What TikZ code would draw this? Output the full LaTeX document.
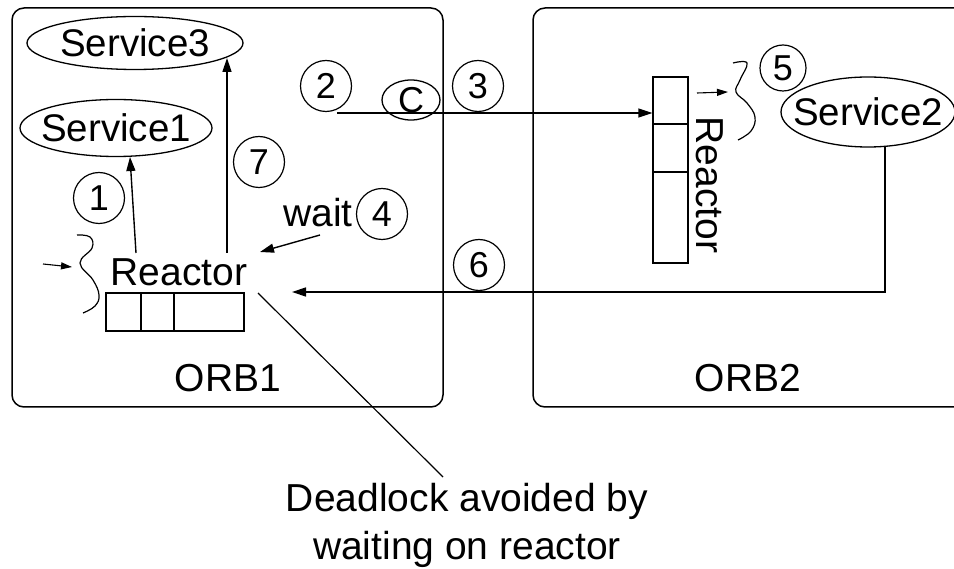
\documentclass[tikz,border=0pt]{standalone}
\usepackage{fontspec}
\setmainfont{Liberation Sans}
\usetikzlibrary{shapes.geometric,arrows.meta}
\begin{document}
\begin{tikzpicture}[x=1pt,y=-1pt,
  orbbox/.style={draw,line width=1.5pt,rounded corners=12pt,inner sep=0pt},
  lbl/.style={font=\fontsize{39}{47}\selectfont,inner sep=0pt},
  svc/.style={draw,ellipse,line width=1.3pt,inner xsep=-20pt,inner ysep=-6pt,font=\fontsize{38.5}{46}\selectfont},
  num/.style={draw,circle,line width=1.2pt,minimum size=51pt,inner sep=0pt,font=\fontsize{36}{43}\selectfont},
  qcell/.style={draw,line width=1.3pt,inner sep=0pt},
  arr/.style={line width=1.4pt,-{Triangle[length=14pt,width=9pt]}},
  thin/.style={line width=1.2pt}]
\clip (0,0) rectangle (954,569);
\useasboundingbox (0,0) rectangle (954,569);
% ORB boxes
\node[orbbox,minimum width=431pt,minimum height=399pt] (orb1) at (227.5,207.5) {};
\node[orbbox,minimum width=442pt,minimum height=399pt] (orb2) at (754,207.5) {};
\node[lbl] (orb1l) at (228,378) {ORB1};
\node[lbl] (orb2l) at (748,378) {ORB2};
% services
\node[svc,minimum width=216pt,minimum height=53pt] (s3) at (135,43) {Service3};
\node[svc,minimum width=192pt,minimum height=57pt] (s1) at (116,128) {Service1};
\node[svc,minimum width=174pt,minimum height=70pt] (s2) at (868,112) {Service2};
\node[svc,minimum width=58pt,minimum height=40pt,font=\fontsize{36}{43}\selectfont] (cc) at (411,100) {C};
% numbers
\node[num] (n1) at (99,198) {1};
\node[num] (n2) at (326,86) {2};
\node[num] (n3) at (478,86) {3};
\node[num] (n4) at (382,214) {4};
\node[num,minimum size=46pt] (n5) at (783,68) {5};
\node[num] (n6) at (479,265) {6};
\node[num] (n7) at (259,162) {7};
% left reactor
\node[lbl] (rl) at (179,272) {Reactor};
\node[qcell,minimum width=35pt,minimum height=38pt] (ql1) at (123.5,312) {};
\node[qcell,minimum width=33pt,minimum height=38pt] (ql2) at (157.5,312) {};
\node[qcell,minimum width=70pt,minimum height=38pt] (ql3) at (209,312) {};
% right reactor
\node[qcell,minimum width=35pt,minimum height=47pt] (qr1) at (670.5,100.5) {};
\node[qcell,minimum width=35pt,minimum height=48pt] (qr2) at (670.5,148) {};
\node[qcell,minimum width=35pt,minimum height=91pt] (qr3) at (670.5,217.5) {};
\node[lbl,rotate=-90] (rr) at (710,185) {Reactor};
% texts
\node[lbl] (wait) at (318,213) {wait};
\node[lbl,align=center] (dl) at (467,525) {Deadlock avoided by\\[1pt]waiting on reactor};
% coordinates
\coordinate (a1s) at (136,253);
\coordinate (a1e) at (130,157);
\coordinate (a7s) at (227,253);
\coordinate (a7e) at (227,58);
\coordinate (a2s) at (337,113);
\coordinate (ws) at (320,235);
\coordinate (we) at (260,252);
\coordinate (p6) at (885,146);
\coordinate (p6c) at (885,292);
\coordinate (e6) at (292,292);
\coordinate (sls) at (43,264);
\coordinate (sle) at (72,267);
\coordinate (srs) at (697,93);
\coordinate (sre) at (728,92);
\coordinate (dls) at (258,293);
\coordinate (dle) at (443,477);
% connectors
\draw[arr] (a1s) -- (a1e);
\draw[arr] (a7s) -- (a7e);
\draw[arr] (a2s) -- (a2s -| qr1.west);
\draw[arr] (ws) -- (we);
\draw[arr] (p6) -- (p6c) -- (e6);
\draw[arr,line width=1.1pt,-{Triangle[length=11pt,width=7pt]}] (sls) -- (sle);
\draw[arr,line width=1.1pt,-{Triangle[length=11pt,width=7pt]}] (srs) -- (sre);
\draw[thin] (dls) -- (dle);
% squiggles
\draw[thin] plot[smooth,tension=0.7] coordinates {(77,235) (90,237) (92,248) (80,263) (93,280) (99,295) (95,306) (83,313)};
\draw[thin] plot[smooth,tension=0.7] coordinates {(733,63) (747,63) (740,80) (736,92) (747,103) (755,117) (751,131) (738,140)};
\end{tikzpicture}
\end{document}
